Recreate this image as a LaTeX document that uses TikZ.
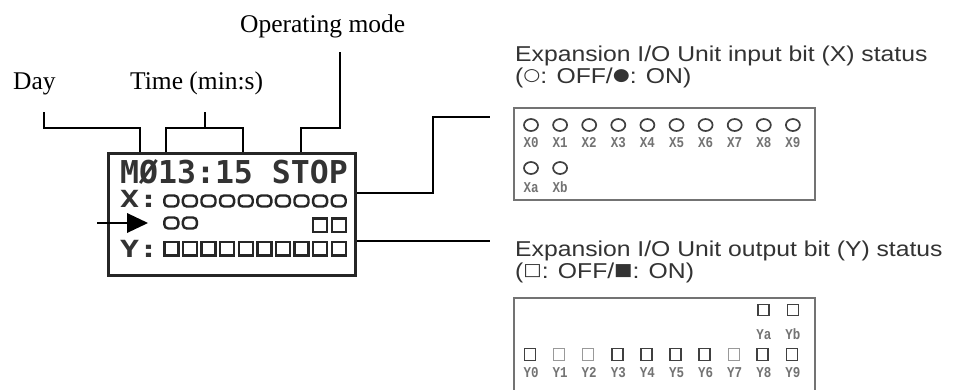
\documentclass[tikz,border=0pt]{standalone}
\usepackage{fontspec}
\setmainfont{Liberation Serif}
\newfontfamily\hsans{Liberation Sans}
\newfontfamily\symfont{DejaVu Sans}
\newfontfamily\lcdfont{DejaVu Sans Mono Bold}
\newfontfamily\tagfont{Liberation Mono Bold}
\newcommand{\symb}[1]{\raisebox{2.5pt}{\symfont\fontsize{17}{18}\selectfont #1}}
\begin{document}
\begin{tikzpicture}[x=1pt,y=-1pt,
  lead/.style={line width=2.4pt, black},
  caption/.style={font=\fontsize{25.5}{28}\selectfont, inner sep=0pt, anchor=base west},
  heading/.style={font=\hsans\fontsize{21.5}{24}\selectfont, text=black!80, inner sep=0pt, anchor=base west},
  lcdbox/.style={draw=black!85, line width=2.6pt, minimum width=247.4pt, minimum height=122.4pt, inner sep=0pt},
  lcdtxt/.style={font=\lcdfont\fontsize{31.5}{32}\selectfont, text=black!80, inner sep=0pt, anchor=base west},
  lcdsym/.style={draw=black!85, line width=2.4pt},
  panel/.style={draw=black!55, line width=2pt},
  pin/.style={draw=black!75, line width=1.7pt},
  pinlight/.style={draw=black!40, line width=1.4pt},
  tag/.style={font=\tagfont\fontsize{12.5}{13}\selectfont, text=black!55, inner sep=0pt, anchor=base}
]
\useasboundingbox (0,0) rectangle (956,389);
\fill[white] (0,0) rectangle (956,389);

% captions
\node[caption] (day) at (13,89) {Day};
\node[caption] (time) at (130,89) {Time (min:s)};
\node[caption] (mode) at (240,32) {Operating mode};

% LCD
\node[lcdbox] (lcd) at (232,214.5) {};
\node[lcdtxt] (row1) at (120,183) {MØ13:15 STOP};
\node[lcdtxt] (row2) at (120,207) {\scalebox{1}[0.75]{X:}};
\node[lcdtxt] (row4) at (120,257) {\scalebox{1}[0.75]{Y:}};
\foreach \k in {0,...,9} {
  \draw[lcdsym, rounded corners=4pt] ({171.3+18.6*\k-7},195.5) rectangle ({171.3+18.6*\k+7},206.5);
  \draw[lcdsym] ({171.3+18.6*\k-7},242) rectangle ({171.3+18.6*\k+7},255.5);
}
\foreach \k in {0,1} {
  \draw[lcdsym, rounded corners=4pt] ({171.3+18.6*\k-7},217.5) rectangle ({171.3+18.6*\k+7},228.5);
}
\foreach \k in {8,9} {
  \draw[lcdsym] ({171.3+18.6*\k-7},218.5) rectangle ({171.3+18.6*\k+7},232);
}

% connector ends
\coordinate (dayTop) at (44,112);
\coordinate (dayBot) at (140,152);
\coordinate (timeTop) at (205,112);
\coordinate (timeL) at (166,152);
\coordinate (timeR) at (243,152);
\coordinate (modeTop) at (340,52);
\coordinate (modeBot) at (301,152);
\coordinate (xStart) at (357,193);
\coordinate (xEnd) at (490,117);
\coordinate (yStart) at (357,241);
\coordinate (yEnd) at (490,241);
\coordinate (arrStart) at (97,223);
\coordinate (arrBase) at (127,223);

\draw[lead] (dayTop) -- ++(0,16) -| (dayBot);
\draw[lead] (timeL) -- ++(0,-24) -| (timeR);
\draw[lead] (timeTop) -- ++(0,16);
\draw[lead] (modeTop) -- ++(0,76) -| (modeBot);
\draw[lead] (xStart) -- ++(76,0) |- (xEnd);
\draw[lead] (yStart) -- (yEnd);
\draw[lead] (arrStart) -- (arrBase);
\fill[black] (arrBase) ++(0,-10) -- ++(21,10) -- ++(-21,10) -- cycle;

% input panel
\node[heading] (xh1) at (515,61) {\scalebox{1.15}[1]{Expansion I/O Unit input bit (X) status}};
\node[heading] (xh2) at (515,83) {\scalebox{1.15}[1]{(\symb{○}: OFF/\symb{●}: ON)}};
\draw[panel] (514,108) rectangle (815,200);
\foreach \k/\t in {0/0,1/1,2/2,3/3,4/4,5/5,6/6,7/7,8/8,9/9} {
  \draw[pin] ({531+29.1*\k},125) ellipse [x radius=7pt, y radius=6pt];
  \node[tag] (lx\t) at ({531+29.1*\k},147.5) {\scalebox{1}[1.2]{X\t}};
}
\foreach \k/\t in {0/a,1/b} {
  \draw[pin] ({531+29.1*\k},168) ellipse [x radius=7pt, y radius=6pt];
  \node[tag] (lx\t) at ({531+29.1*\k},192.5) {\scalebox{1}[1.2]{X\t}};
}

% output panel
\node[heading] (yh1) at (515,256) {\scalebox{1.15}[1]{Expansion I/O Unit output bit (Y) status}};
\node[heading] (yh2) at (515,278) {\scalebox{1.15}[1]{(\symb{□}: OFF/\symb{■}: ON)}};
\draw[panel] (514,395) |- (815,298) -- (815,395);
\foreach \k/\t in {8/a,9/b} {
  \draw[pin] ({531+29.1*\k-5.5},304.5) rectangle ({531+29.1*\k+5.5},315.5);
  \node[tag] (ly\t) at ({531+29.1*\k},339.5) {\scalebox{1}[1.2]{Y\t}};
}
\foreach \k in {0,...,9} {
  \node[tag] (ly\k) at ({531+29.1*\k},377.5) {\scalebox{1}[1.2]{Y\k}};
}
\foreach \k in {0,3,4,5,6,8,9} {
  \draw[pin] ({530+29.1*\k-5.5},348.5) rectangle ({530+29.1*\k+5.5},360.5);
}
\foreach \k in {1,2,7} {
  \draw[pinlight] ({530+29.1*\k-5.5},348.5) rectangle ({530+29.1*\k+5.5},360.5);
}
\end{tikzpicture}
\end{document}
